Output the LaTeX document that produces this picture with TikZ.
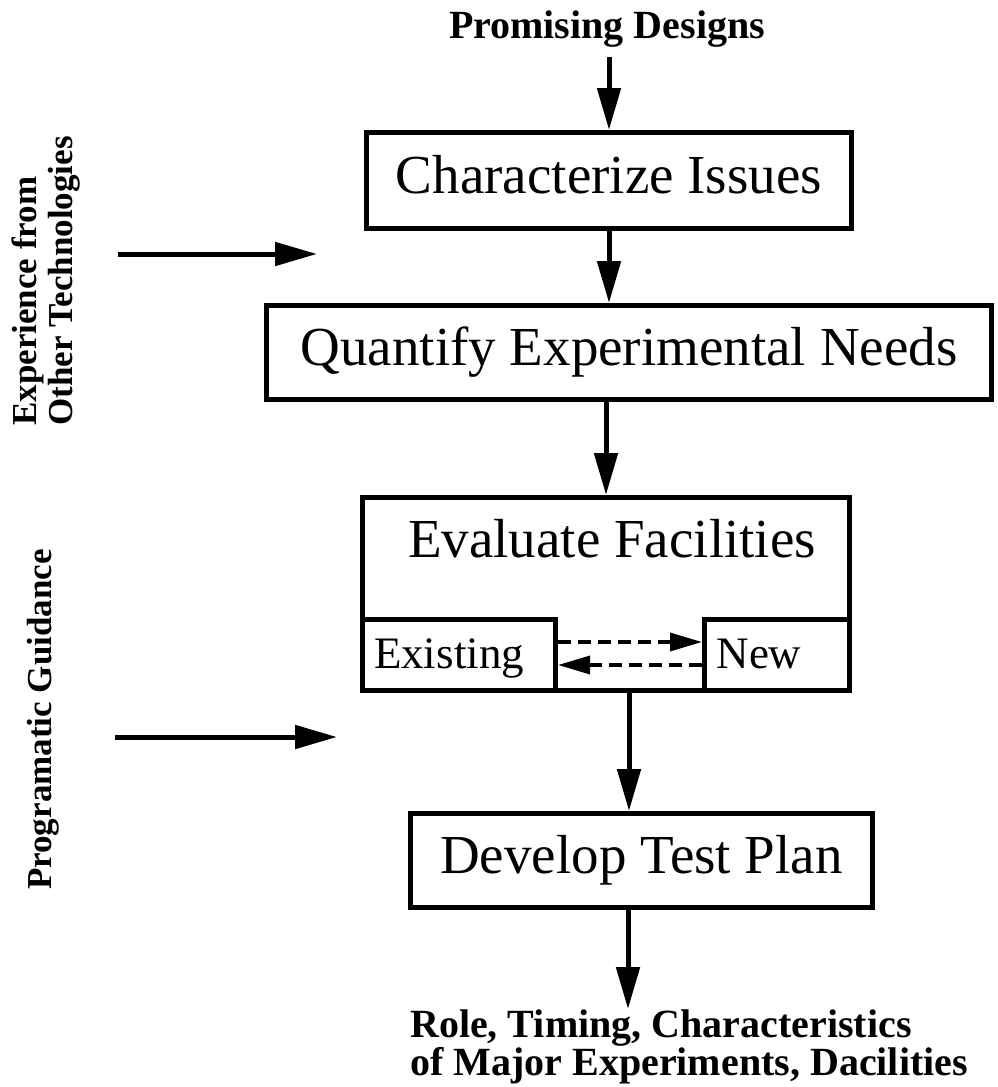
\documentclass[tikz,border=0pt]{standalone}
\usepackage{fontspec}
\setmainfont{Liberation Serif}
\usetikzlibrary{arrows.meta}
\newcommand{\bigfnt}{\fontsize{55}{62}\selectfont}
\newcommand{\midfnt}{\fontsize{45}{52}\selectfont}
\newcommand{\lblfnt}{\fontsize{40}{46}\selectfont\bfseries}
\newcommand{\sidefnt}{\fontsize{35}{40}\selectfont\bfseries}
\begin{document}
\begin{tikzpicture}[x=1pt,y=-1pt,
  box/.style={draw, line width=5pt, inner sep=0pt, font=\bigfnt, text height=36pt, text depth=10pt},
  plainbox/.style={draw, line width=5pt, inner sep=0pt},
  arr/.style={line width=5pt, -{Triangle[length=42pt,width=23pt]}},
  darr/.style={line width=3.5pt, dash pattern=on 13pt off 7pt, -{Triangle[length=32pt,width=18pt]}},
  txt/.style={inner sep=0pt}]
\useasboundingbox (0,0) rectangle (998,1087);

% flow boxes
\node[txt, font=\lblfnt, anchor=base] (pd) at (607,38) {Promising Designs};
\node[box, minimum width=485pt, minimum height=96pt] (ci) at (609,180.5) {Characterize Issues};
\node[box, minimum width=725pt, minimum height=94pt] (qn) at (629,352.5) {Quantify Experimental Needs};
\node[plainbox, minimum width=487pt, minimum height=193pt] (ef) at (606,594) {};
\node[txt, font=\bigfnt, anchor=base] (efT) at (612,557) {Evaluate Facilities};
\node[plainbox, minimum width=193pt, minimum height=71pt] (ex) at (459,655) {};
\node[txt, font=\midfnt, anchor=base] (exT) at (449,668) {Existing};
\node[plainbox, minimum width=145pt, minimum height=71pt] (nw) at (777,655) {};
\node[txt, font=\midfnt, anchor=base] (nwT) at (759,668) {New};
\node[box, minimum width=462pt, minimum height=94pt] (dt) at (641.5,860.5) {Develop Test Plan};
\node[txt, font=\lblfnt, anchor=base west] (out1) at (410,1037) {Role, Timing, Characteristics};
\node[txt, font=\lblfnt, anchor=base west] (out2) at (410,1075) {of Major Experiments, Dacilities};

% side labels
\node[txt, font=\sidefnt, rotate=90, anchor=base west] (exp1) at (36,426) {Experience from};
\node[txt, font=\sidefnt, rotate=90, anchor=base west] (exp2) at (72,426) {Other Technologies};
\node[txt, font=\sidefnt, rotate=90, anchor=base west] (pg) at (51,890) {Programatic Guidance};

\coordinate (e1) at (118,254);
\coordinate (e2) at (317,254);
\coordinate (g1) at (115,737);
\coordinate (g2) at (337,737);

% connectors
\draw[arr, shorten <=10pt] (pd.south -| ci.north) -- (ci.north);
\draw[arr] (ci.south) -- (ci.south |- qn.north);
\draw[arr] (qn.south -| ef.north) -- (ef.north);
\draw[arr] ([xshift=23pt]ef.south) -- ([xshift=23pt]ef.south |- dt.north);
\draw[arr] ([xshift=-13.5pt]dt.south) -- ([xshift=-13.5pt]dt.south |- out1.north);
\draw[darr] ([yshift=13pt]ex.east) -- ([yshift=13pt]nw.west);
\draw[darr] ([yshift=-10pt]nw.west) -- ([yshift=-10pt]ex.east);
\draw[arr] (e1) -- (e2);
\draw[arr] (g1) -- (g2);
\end{tikzpicture}
\end{document}
